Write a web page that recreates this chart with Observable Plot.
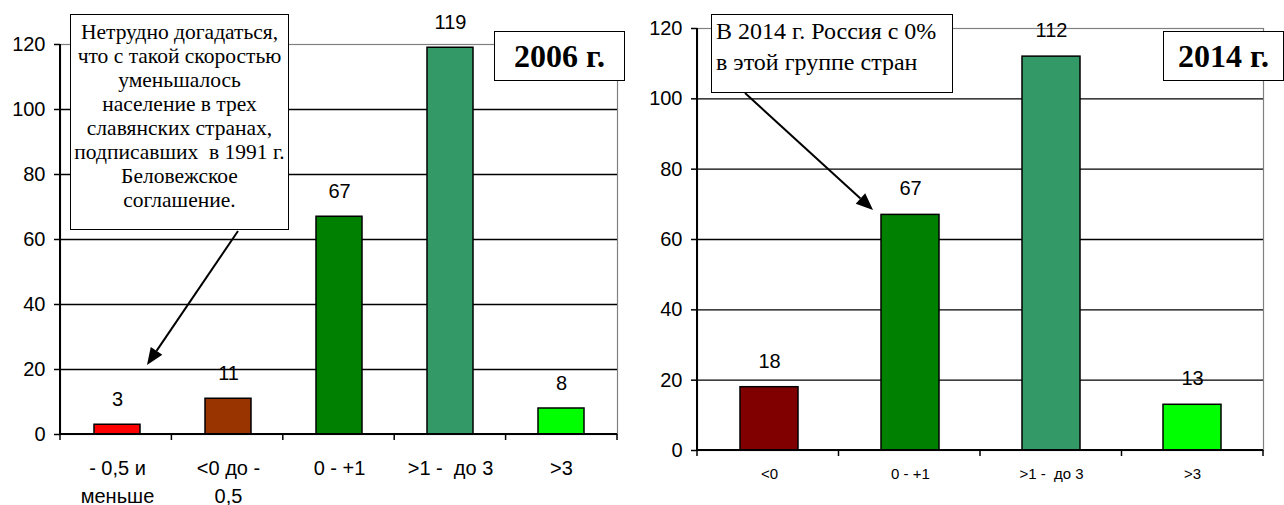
<!DOCTYPE html>
<html>
<head>
<meta charset="utf-8">
<script src="https://cdn.jsdelivr.net/npm/d3@7"></script>
<script src="https://cdn.jsdelivr.net/npm/@observablehq/plot@0.6"></script>
<style>
  html, body { margin: 0; padding: 0; background: white; }
  #wrap { position: relative; width: 1284px; height: 505px; display: flex; }
  svg text { white-space: pre; }
  .note { position: absolute; box-sizing: border-box; background: white; border: 1.5px solid black;
          font-family: "Liberation Serif", "Times New Roman", serif; color: black; white-space: pre; }
  .year { position: absolute; box-sizing: border-box; background: white; border: 1.5px solid black;
          font-family: "Liberation Serif", "Times New Roman", serif; font-weight: bold; font-size: 32px;
          display: flex; align-items: center; justify-content: center; }
  #arrows { position: absolute; left: 0; top: 0; pointer-events: none; }
</style>
</head>
<body>
<div id="wrap">
  <div id="c1"></div>
  <div id="c2"></div>
</div>
<script>
// ---- data ----
const cats2006 = ["- 0,5 и\nменьше", "<0 до -\n0,5", "0 - +1", ">1 -  до 3", ">3"];
const values2006 = [3, 11, 67, 119, 8];
const colors2006 = ["#FF0000", "#993300", "#008000", "#339966", "#00FF00"];

const cats2014 = ["<0", "0 - +1", ">1 -  до 3", ">3"];
const values2014 = [18, 67, 112, 13];
const colors2014 = ["#800000", "#008000", "#339966", "#00FF00"];

const yTicks = [0, 20, 40, 60, 80, 100, 120];
const gridValues = [20, 40, 60, 80, 100];

const note2006 = ["Нетрудно догадаться,", "что с такой скоростью", "уменьшалось", "население в трех",
  "славянских странах,", "подписавших  в 1991 г.", "Беловежское", "соглашение."];
const note2014 = ["В 2014 г. Россия с 0%", "в этой группе стран"];
const year2006 = "2006 г.";
const year2014 = "2014 г.";

// axis lines + boundary ticks drawn from the plot's dimensions
function axisLines(n) {
  return (index, scales, values, dims) => {
    const x0 = dims.marginLeft, x1 = dims.width - dims.marginRight;
    const yb = dims.height - dims.marginBottom, yt = dims.marginTop;
    const g = d3.create("svg:g").attr("stroke", "black").attr("fill", "none");
    g.append("line").attr("x1", x0).attr("x2", x0).attr("y1", yt).attr("y2", yb).attr("stroke-width", 2);
    g.append("line").attr("x1", x0).attr("x2", x1).attr("y1", yb).attr("y2", yb).attr("stroke-width", 2);
    for (let i = 0; i <= n; i++) {
      const x = x0 + i * (x1 - x0) / n;
      g.append("line").attr("x1", x).attr("x2", x).attr("y1", yb).attr("y2", yb + 6).attr("stroke-width", 1.5);
    }
    return g.node();
  };
}

function chart({cats, values, colors, width, height, ml, mr, mt, mb, xFont, xPad, lh, labelDy}) {
  const data = cats.map((c, i) => ({cat: c, value: values[i]}));
  return Plot.plot({
    width, height,
    marginLeft: ml, marginRight: mr, marginTop: mt, marginBottom: mb,
    x: {domain: cats, paddingInner: 0.59, paddingOuter: 0.295, axis: null, label: null},
    y: {domain: [0, 120], axis: null, label: null},
    color: {domain: cats, range: colors},
    style: {fontFamily: "'Liberation Sans', Arial, sans-serif", fontSize: "20px", background: "white", color: "black", overflow: "visible"},
    marks: [
      Plot.frame({stroke: "#808080", strokeWidth: 1.2}),
      Plot.ruleY(gridValues, {stroke: "black", strokeWidth: 1.3}),
      Plot.barY(data, {x: "cat", y: "value", fill: "cat", stroke: "black", strokeWidth: 1.5}),
      Plot.text(data, {x: "cat", y: "value", text: d => String(d.value), dy: labelDy, fontSize: 20, fill: "black"}),
      Plot.axisY({ticks: yTicks, tickSize: 6, tickPadding: 9, fontSize: 20, stroke: "black", strokeWidth: 1.5, label: null, tickFormat: d => String(d)}),
      Plot.axisX({tickSize: 0, tickPadding: xPad, fontSize: xFont, lineHeight: lh, label: null}),
      axisLines(cats.length)
    ]
  });
}

document.getElementById("c1").append(chart({
  cats: cats2006, values: values2006, colors: colors2006,
  width: 640, height: 505, ml: 60, mr: 23, mt: 44, mb: 71, xFont: 20, xPad: 21, lh: 1.38, labelDy: -25
}));
document.getElementById("c2").append(chart({
  cats: cats2014, values: values2014, colors: colors2014,
  width: 644, height: 505, ml: 57, mr: 21, mt: 28, mb: 55, xFont: 15, xPad: 16, lh: 1.2, labelDy: -26
}));

// ---- annotations ----
const wrap = document.getElementById("wrap");
function addBox(cls, left, top, w, h, html, extra) {
  const d = document.createElement("div");
  d.className = cls;
  Object.assign(d.style, {left: left + "px", top: top + "px", width: w + "px", height: h + "px"}, extra || {});
  d.innerHTML = html;
  wrap.append(d);
}
const esc = s => s.replace(/&/g, "&amp;").replace(/</g, "&lt;");
addBox("note", 70, 14, 219, 216, note2006.map(esc).join("\n"),
  {fontSize: "21.5px", lineHeight: "24px", textAlign: "center", paddingTop: "5px"});
addBox("note", 711, 14, 242, 79, note2014.map(esc).join("\n"),
  {fontSize: "24px", lineHeight: "31px", textAlign: "left", paddingLeft: "4px", paddingTop: "1px"});
addBox("year", 494, 31, 131, 50, esc(year2006));
addBox("year", 1163, 31, 121, 50, esc(year2014));

const arrows = d3.select(wrap).append("svg").attr("id", "arrows").attr("width", 1284).attr("height", 505);
function arrow(x1, y1, x2, y2) {
  const a = Math.atan2(y2 - y1, x2 - x1), L = 17, W = 7;
  const bx = x2 - L * Math.cos(a), by = y2 - L * Math.sin(a);
  arrows.append("line").attr("x1", x1).attr("y1", y1).attr("x2", bx).attr("y2", by)
    .attr("stroke", "black").attr("stroke-width", 2);
  const px = -Math.sin(a) * W, py = Math.cos(a) * W;
  arrows.append("polygon").attr("points", `${x2},${y2} ${bx + px},${by + py} ${bx - px},${by - py}`).attr("fill", "black");
}
arrow(238, 231, 147, 365);
arrow(745, 93, 873, 210);
</script>
</body>
</html>
